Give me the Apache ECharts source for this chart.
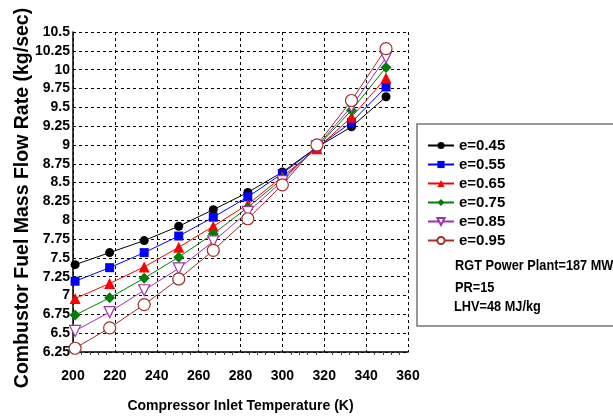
<!DOCTYPE html>
<html>
<head>
<meta charset="utf-8">
<script src="https://cdn.jsdelivr.net/npm/echarts@6/dist/echarts.min.js"></script>
<style>
  html, body { margin: 0; padding: 0; background: #fff; }
  #chart { width: 613px; height: 416px; }
</style>
</head>
<body>
<div id="chart"></div>
<script>
// compressor inlet temperature (K)
var temps = [201, 217.5, 234, 250.5, 267, 283.5, 300, 316.5, 333, 349.5];

// fuel mass flow rate (kg/sec) for each effectiveness
var e045 = [7.41, 7.57, 7.73, 7.92, 8.14, 8.37, 8.64, 8.97, 9.24, 9.64];
var e055 = [7.19, 7.37, 7.57, 7.79, 8.04, 8.31, 8.62, 8.97, 9.30, 9.77];
var e065 = [6.96, 7.16, 7.38, 7.64, 7.92, 8.21, 8.58, 8.95, 9.37, 9.89];
var e075 = [6.74, 6.97, 7.23, 7.51, 7.82, 8.17, 8.55, 8.97, 9.46, 10.03];
var e085 = [6.53, 6.78, 7.07, 7.36, 7.72, 8.11, 8.52, 8.98, 9.51, 10.16];
var e095 = [6.30, 6.57, 6.88, 7.22, 7.60, 8.02, 8.47, 9.00, 9.59, 10.28];

var names = ['e=0.45', 'e=0.55', 'e=0.65', 'e=0.75', 'e=0.85', 'e=0.95'];
var notes = ['RGT Power Plant=187 MW', 'PR=15', 'LHV=48 MJ/kg'];

var sans = '"Liberation Sans", Arial, sans-serif';

function pairs(ys) {
    return ys.map(function (v, i) { return [temps[i], v]; });
}

function makeSeries(name, ys, color, symbol, size, hollow, rotate) {
    return {
        name: name,
        type: 'line',
        data: pairs(ys),
        symbol: symbol,
        symbolSize: size,
        symbolRotate: rotate || 0,
        showSymbol: true,
        lineStyle: { color: color, width: 1 },
        itemStyle: hollow ?
            { color: '#fff', borderColor: color, borderWidth: 1.2 } :
            { color: color, borderColor: color, borderWidth: 0 },
        z: 3
    };
}

function note(text, x, y) {
    return {
        type: 'text', x: x, y: y, z: 5, scaleX: 0.85,
        style: { text: text, font: 'bold 15px ' + sans, fill: '#000' }
    };
}

var chart = echarts.init(document.getElementById('chart'));

var option = {
    backgroundColor: '#fff',
    animation: false,
    grid: { left: 73, top: 32, right: 205, bottom: 64, outerBoundsMode: 'none' },
    xAxis: {
        type: 'value',
        min: 200, max: 360, interval: 20,
        name: 'Compressor Inlet Temperature (K)',
        nameLocation: 'middle',
        nameGap: 47,
        nameMoveOverlap: false,
        nameTextStyle: { fontFamily: sans, fontWeight: 'bold', fontSize: 14, color: '#000' },
        axisLine: { show: true, lineStyle: { color: '#000', width: 1.5 } },
        axisTick: { show: false },
        minorTick: { show: true, splitNumber: 5, length: 3, lineStyle: { color: '#444' } },
        axisLabel: { fontFamily: sans, fontWeight: 'bold', fontSize: 14, color: '#000', margin: 17 },
        splitLine: { show: true, lineStyle: { color: '#000', type: [3, 3], width: 1 } }
    },
    yAxis: {
        type: 'value',
        min: 6.25, max: 10.5, interval: 0.25,
        name: 'Combustor Fuel Mass Flow Rate (kg/sec)',
        nameLocation: 'middle',
        nameGap: 40,
        nameMoveOverlap: false,
        nameTextStyle: { fontFamily: sans, fontWeight: 'bold', fontSize: 19.5, color: '#000', padding: [0, 12, 0, 0] },
        axisLine: { show: true, lineStyle: { color: '#000', width: 1.5 } },
        axisTick: { show: false },
        axisLabel: { fontFamily: sans, fontWeight: 'bold', fontSize: 14, color: '#000', margin: 3 },
        splitLine: { show: true, lineStyle: { color: '#000', type: [3, 3], width: 1 } }
    },
    legend: {
        orient: 'vertical',
        left: 422,
        top: 133,
        itemWidth: 26,
        itemHeight: 9,
        itemGap: 4,
        data: names,
        textStyle: { fontFamily: sans, fontWeight: 'bold', fontSize: 15, color: '#000' }
    },
    graphic: [
        {
            type: 'rect', z: 0,
            shape: { x: 417, y: 124, width: 210, height: 202 },
            style: { fill: '#fff', stroke: '#777', lineWidth: 1.5 }
        },
        note(notes[0], 455, 258),
        note(notes[1], 455, 280),
        note(notes[2], 454, 299)
    ],
    series: [
        makeSeries(names[0], e045, '#000000', 'circle', 9, false),
        makeSeries(names[1], e055, '#0000ff', 'rect', 9, false),
        makeSeries(names[2], e065, '#ff0000', 'triangle', 11, false),
        makeSeries(names[3], e075, '#008000', 'diamond', 11, false),
        makeSeries(names[4], e085, '#a030b0', 'triangle', 11, true, 180),
        makeSeries(names[5], e095, '#a0302c', 'circle', 12, true)
    ]
};

chart.setOption(option);
</script>
</body>
</html>
